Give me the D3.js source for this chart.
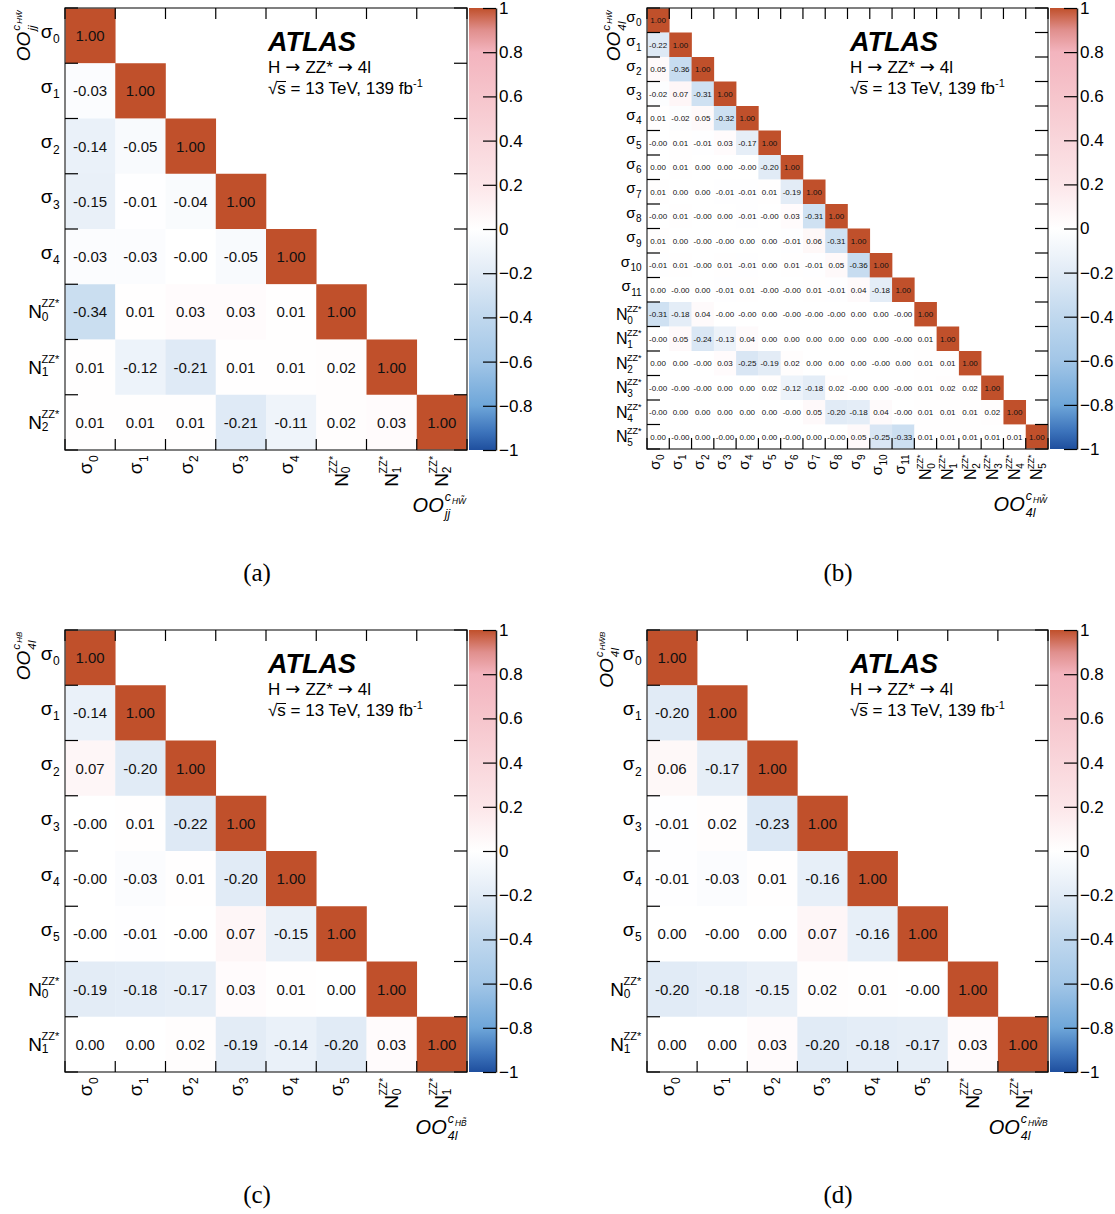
<!DOCTYPE html>
<html><head><meta charset="utf-8">
<script src="https://cdn.jsdelivr.net/npm/d3@7"></script>
<style>
body{margin:0;background:#fff;}
svg{display:block;font-family:"Liberation Sans",Arial,Helvetica,sans-serif;}
</style></head><body>
<svg id="chart" width="1115" height="1214"></svg>
<script>
// ---------------- DATA ----------------
const labelsA = ["σ0","σ1","σ2","σ3","σ4","N0","N1","N2"];
const valuesA = [
  [1.00],
  [-0.03, 1.00],
  [-0.14, -0.05, 1.00],
  [-0.15, -0.01, -0.04, 1.00],
  [-0.03, -0.03, -0.00, -0.05, 1.00],
  [-0.34, 0.01, 0.03, 0.03, 0.01, 1.00],
  [0.01, -0.12, -0.21, 0.01, 0.01, 0.02, 1.00],
  [0.01, 0.01, 0.01, -0.21, -0.11, 0.02, 0.03, 1.00]
];
const labelsB = ["σ0","σ1","σ2","σ3","σ4","σ5","σ6","σ7","σ8","σ9","σ10","σ11","N0","N1","N2","N3","N4","N5"];
const valuesB = [
  [1.00],
  [-0.22, 1.00],
  [0.05, -0.36, 1.00],
  [-0.02, 0.07, -0.31, 1.00],
  [0.01, -0.02, 0.05, -0.32, 1.00],
  [-0.00, 0.01, -0.01, 0.03, -0.17, 1.00],
  [0.00, 0.01, 0.00, 0.00, -0.00, -0.20, 1.00],
  [0.01, 0.00, 0.00, -0.01, -0.01, 0.01, -0.19, 1.00],
  [-0.00, 0.01, -0.00, 0.00, -0.01, -0.00, 0.03, -0.31, 1.00],
  [0.01, 0.00, -0.00, -0.00, 0.00, 0.00, -0.01, 0.06, -0.31, 1.00],
  [-0.01, 0.01, -0.00, 0.01, -0.01, 0.00, 0.01, -0.01, 0.05, -0.36, 1.00],
  [0.00, -0.00, 0.00, -0.01, 0.01, -0.00, -0.00, 0.01, -0.01, 0.04, -0.18, 1.00],
  [-0.31, -0.18, 0.04, -0.00, -0.00, 0.00, -0.00, -0.00, -0.00, 0.00, 0.00, -0.00, 1.00],
  [-0.00, 0.05, -0.24, -0.13, 0.04, 0.00, 0.00, 0.00, 0.00, 0.00, 0.00, -0.00, 0.01, 1.00],
  [0.00, 0.00, -0.00, 0.03, -0.25, -0.19, 0.02, 0.00, 0.00, 0.00, -0.00, 0.00, 0.01, 0.01, 1.00],
  [-0.00, -0.00, -0.00, 0.00, 0.00, 0.02, -0.12, -0.18, 0.02, -0.00, 0.00, -0.00, 0.01, 0.02, 0.02, 1.00],
  [-0.00, 0.00, 0.00, 0.00, 0.00, 0.00, -0.00, 0.05, -0.20, -0.18, 0.04, -0.00, 0.01, 0.01, 0.01, 0.02, 1.00],
  [0.00, -0.00, 0.00, -0.00, 0.00, 0.00, -0.00, 0.00, -0.00, 0.05, -0.25, -0.33, 0.01, 0.01, 0.01, 0.01, 0.01, 1.00]
];
const labelsC = ["σ0","σ1","σ2","σ3","σ4","σ5","N0","N1"];
const valuesC = [
  [1.00],
  [-0.14, 1.00],
  [0.07, -0.20, 1.00],
  [-0.00, 0.01, -0.22, 1.00],
  [-0.00, -0.03, 0.01, -0.20, 1.00],
  [-0.00, -0.01, -0.00, 0.07, -0.15, 1.00],
  [-0.19, -0.18, -0.17, 0.03, 0.01, 0.00, 1.00],
  [0.00, 0.00, 0.02, -0.19, -0.14, -0.20, 0.03, 1.00]
];
const labelsD = ["σ0","σ1","σ2","σ3","σ4","σ5","N0","N1"];
const valuesD = [
  [1.00],
  [-0.20, 1.00],
  [0.06, -0.17, 1.00],
  [-0.01, 0.02, -0.23, 1.00],
  [-0.01, -0.03, 0.01, -0.16, 1.00],
  [0.00, -0.00, 0.00, 0.07, -0.16, 1.00],
  [-0.20, -0.18, -0.15, 0.02, 0.01, -0.00, 1.00],
  [0.00, 0.00, 0.03, -0.20, -0.18, -0.17, 0.03, 1.00]
];
const titleA = ["OO", "c", "HW\u0303", "jj"];
const titleB = ["OO", "c", "HW\u0303", "4l"];
const titleC = ["OO", "c", "HB\u0303", "4l"];
const titleD = ["OO", "c", "HW\u0303B", "4l"];
const colorTicks = [1, 0.8, 0.6, 0.4, 0.2, 0, -0.2, -0.4, -0.6, -0.8, -1];
const captions = ["(a)", "(b)", "(c)", "(d)"];

// ---------------- STYLE ----------------
const color = d3.scaleLinear()
  .domain([-1, -0.92, -0.8, -0.6, -0.4, -0.2, 0, 0.2, 0.4, 0.6, 0.8, 0.9, 1])
  .range(["#1f4f9e","#3c73bb","#6ea6d9","#a2c6e7","#c0d8ee","#e1ebf6","#ffffff","#fce6e9","#f9d6db","#f6c5cc","#f3b4be","#e08f8d","#c0502b"])
  .clamp(true);

const svg = d3.select("#chart");
const defs = svg.append("defs");

function fmt(v){ return (Object.is(v,-0) ? "-" : "") + v.toFixed(2); }

function makeLabel(parent, lab, s){
  const g = parent.append("g");
  if (lab[0] === "σ"){
    const m = g.append("text").attr("x",0).attr("y",s.sigBase).style("font-size",s.sig+"px").text("σ");
    const w = m.node().getComputedTextLength();
    g.append("text").attr("x",w+0.5).attr("y",s.sigSub).style("font-size",s.sub+"px").text(lab.slice(1));
  } else {
    const m = g.append("text").attr("x",0).attr("y",s.nBase).style("font-size",s.n+"px").text("N");
    const w = m.node().getComputedTextLength();
    g.append("text").attr("x",w-0.5).attr("y",s.nSup).style("font-size",s.sup+"px").text("ZZ*");
    g.append("text").attr("x",w-0.2).attr("y",s.nSub).style("font-size",s.sub+"px").text(lab.slice(1));
  }
  return g;
}

function makeTitle(parent, t, fs){
  const g = parent.append("g").style("font-style","italic");
  const m = g.append("text").attr("x",0).attr("y",0).style("font-size",fs+"px").text(t[0]);
  const w = m.node().getComputedTextLength();
  const c = g.append("text").attr("x",w+1).attr("y",-fs*0.55).style("font-size",(fs*0.62)+"px").text(t[1]);
  const wc = c.node().getComputedTextLength();
  g.append("text").attr("x",w+1+wc+1).attr("y",-fs*0.42).style("font-size",(fs*0.42)+"px").text(t[2]);
  g.append("text").attr("x",w+1).attr("y",fs*0.32).style("font-size",(fs*0.62)+"px").text(t[3]);
  return g;
}

const big = {cell:15, sig:19, sub:12, sigBase:2, sigSub:7.5, n:19, sup:11, nBase:6.5, nSup:-4.5, nSub:9, title:20, ltitle:19, cbFont:17};
const small = {cell:8, sig:15, sub:10, sigBase:1.5, sigSub:6, n:16, sup:9, nBase:5.5, nSup:-2.5, nSub:9.5, title:20, ltitle:19, cbFont:17};

const panels = [
  {labels:labelsA, values:valuesA, title:titleA, cap:captions[0], x0:65,  y0:8,   w:402, h:442, s:big,   titleX:30,  capX:257, capY:581},
  {labels:labelsB, values:valuesB, title:titleB, cap:captions[1], x0:647, y0:8,   w:401, h:441, s:small, titleX:620, capX:838, capY:581},
  {labels:labelsC, values:valuesC, title:titleC, cap:captions[2], x0:65,  y0:630, w:402, h:442, s:big,   titleX:30,  capX:257, capY:1203},
  {labels:labelsD, values:valuesD, title:titleD, cap:captions[3], x0:647, y0:630, w:401, h:442, s:big,   titleX:613, capX:838, capY:1203}
];

panels.forEach((p, pi) => {
  const g = svg.append("g");
  const n = p.labels.length;
  const xs = d3.scaleBand().domain(d3.range(n)).range([p.x0, p.x0+p.w]);
  const ys = d3.scaleBand().domain(d3.range(n)).range([p.y0, p.y0+p.h]);
  const cells = p.values.flatMap((row,i) => row.map((v,j) => ({i,j,v})));

  g.selectAll("rect.cell").data(cells).join("rect").attr("class","cell")
    .attr("x",d=>xs(d.j)).attr("y",d=>ys(d.i))
    .attr("width",xs.bandwidth()+0.3).attr("height",ys.bandwidth()+0.3)
    .attr("fill",d=>color(d.v));
  g.selectAll("text.val").data(cells).join("text").attr("class","val")
    .attr("x",d=>xs(d.j)+xs.bandwidth()/2).attr("y",d=>ys(d.i)+ys.bandwidth()/2)
    .attr("dy","0.36em").attr("text-anchor","middle")
    .style("font-size",p.s.cell+"px").attr("fill","#111")
    .text(d=>fmt(d.v));

  g.append("rect").attr("x",p.x0).attr("y",p.y0).attr("width",p.w).attr("height",p.h)
    .attr("fill","none").attr("stroke","#555").attr("stroke-width",1.5);
  const yb = d3.range(n+1).map(k => k<n ? ys(k) : p.y0+p.h);
  const xb = d3.range(n+1).map(k => k<n ? xs(k) : p.x0+p.w);
  const th = 13, tv = 11;
  const tk = g.append("g").attr("stroke","#000").attr("stroke-width",1.2);
  yb.forEach(yy => {
    tk.append("line").attr("x1",p.x0).attr("x2",p.x0+th).attr("y1",yy).attr("y2",yy);
    tk.append("line").attr("x1",p.x0+p.w-th).attr("x2",p.x0+p.w).attr("y1",yy).attr("y2",yy);
  });
  xb.forEach(xx => {
    tk.append("line").attr("x1",xx).attr("x2",xx).attr("y1",p.y0).attr("y2",p.y0+tv);
    tk.append("line").attr("x1",xx).attr("x2",xx).attr("y1",p.y0+p.h-tv).attr("y2",p.y0+p.h);
  });

  p.labels.forEach((lab,i) => {
    const lg = makeLabel(g, lab, p.s);
    const bb = lg.node().getBBox();
    const cy = ys(i) + ys.bandwidth()/2;
    lg.attr("transform", `translate(${p.x0 - 5 - (bb.x+bb.width)},${cy})`);
  });
  p.labels.forEach((lab,j) => {
    const outer = g.append("g");
    const lg = makeLabel(outer, lab, p.s);
    const bb = lg.node().getBBox();
    const cx = xs(j) + xs.bandwidth()/2;
    lg.attr("transform", `translate(${-(bb.x+bb.width)},0)`);
    outer.attr("transform", `translate(${cx},${p.y0+p.h+5}) rotate(-90)`);
  });

  const bt = makeTitle(g, p.title, p.s.title);
  const bbt = bt.node().getBBox();
  bt.attr("transform", `translate(${p.x0+p.w-(bbt.x+bbt.width)},${p.y0+p.h+62})`);
  const lo = g.append("g");
  const lt = makeTitle(lo, p.title, p.s.ltitle);
  const bbl = lt.node().getBBox();
  lt.attr("transform", `translate(${-(bbl.x+bbl.width)},0)`);
  lo.attr("transform", `translate(${p.titleX},${p.y0+1}) rotate(-90)`);

  const cbX = p.x0 + p.w + 2, cbW = 27;
  const gid = "grad"+pi;
  const grad = defs.append("linearGradient").attr("id",gid).attr("x1",0).attr("y1",1).attr("x2",0).attr("y2",0);
  color.domain().forEach((d,k) => grad.append("stop").attr("offset",(d+1)/2).attr("stop-color",color.range()[k]));
  g.append("rect").attr("x",cbX).attr("y",p.y0).attr("width",cbW).attr("height",p.h).attr("fill",`url(#${gid})`);
  const cs = d3.scaleLinear().domain([-1,1]).range([p.y0+p.h, p.y0]);
  const ax = g.append("g").attr("transform",`translate(${cbX+cbW},0)`)
    .call(d3.axisRight(cs).tickValues(colorTicks).tickSize(-13).tickSizeOuter(0).tickPadding(3)
      .tickFormat(d => Number.isInteger(d) ? d3.format("d")(d) : d3.format(".1f")(d)));
  ax.attr("font-family",null).attr("font-size",null);
  ax.selectAll("text").style("font-size",p.s.cbFont+"px").attr("fill","#000");
  ax.selectAll("line").attr("stroke","#000").attr("stroke-width",1.2);
  ax.select(".domain").attr("stroke","#222").attr("stroke-width",1.5);

  const axX = p.x0 + 203, axY = p.y0 + 43;
  g.append("text").attr("x",axX).attr("y",axY).style("font-size","27px").style("font-weight","bold").style("font-style","italic").text("ATLAS");
  const l2 = g.append("text").attr("x",axX).attr("y",axY+22).style("font-size","17px");
  l2.append("tspan").text("H");
  l2.append("tspan").attr("dx",5).style("font-family","'DejaVu Sans',sans-serif").style("font-size","18px").text("→");
  l2.append("tspan").attr("dx",5).text("ZZ*");
  l2.append("tspan").attr("dx",5).style("font-family","'DejaVu Sans',sans-serif").style("font-size","18px").text("→");
  l2.append("tspan").attr("dx",5).text("4l");
  const l3 = g.append("text").attr("x",axX).attr("y",axY+43).style("font-size","17px");
  l3.append("tspan").text("√s = 13 TeV, 139 fb");
  l3.append("tspan").attr("dy",-7).style("font-size","11px").text("-1");
  g.append("line").attr("x1",axX+9).attr("x2",axX+18).attr("y1",axY+30.5).attr("y2",axY+30.5).attr("stroke","#000").attr("stroke-width",1);

  g.append("text").attr("x",p.capX).attr("y",p.capY).attr("text-anchor","middle")
    .style("font-family","'Liberation Serif','DejaVu Serif',serif").style("font-size","25px").text(p.cap);
});
</script>
</body></html>
